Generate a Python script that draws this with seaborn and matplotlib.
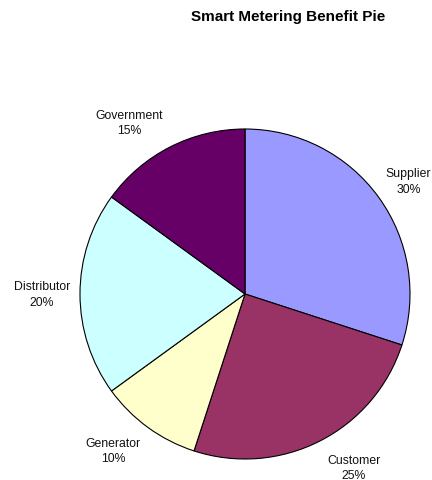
import matplotlib
matplotlib.use("Agg")
import matplotlib.pyplot as plt
import seaborn as sns

categories = ["Supplier", "Customer", "Generator", "Distributor", "Government"]
shares = [30, 25, 10, 20, 15]
colors = ["#9999FF", "#993366", "#FFFFCC", "#CCFFFF", "#660066"]
label_pos = [(0.99, 0.685), (0.66, -1.05), (-0.80, -0.95), (-1.23, 0.0), (-0.70, 1.04)]

sns.set_theme(style="white")
plt.rcParams['font.family'] = ['Liberation Sans', 'DejaVu Sans']

fig = plt.figure(figsize=(4.32, 4.81), dpi=100)
fig.patch.set_facecolor("white")
ax = fig.add_axes([80/432, 21/481, 330/432, 330/481])
wedges, _ = ax.pie(shares, colors=sns.color_palette(colors), startangle=90, counterclock=False,
                   radius=1.0, wedgeprops=dict(edgecolor="black", linewidth=0.8))
ax.set_xlim(-1, 1)
ax.set_ylim(-1, 1)
ax.set_aspect("equal")
ax.axis("off")
for name, val, (x, y) in zip(categories, shares, label_pos):
    ax.text(x, y, f"{name}\n{val}%", ha="center", va="center", fontsize=8.8,
            linespacing=1.35, clip_on=False, color="#111111")

fig.text(288/432, 1 - 17/481, "Smart Metering Benefit Pie", ha="center", va="center",
         fontsize=11, fontweight="bold", color="black")
fig.savefig("out.png", dpi=100, facecolor="white")
